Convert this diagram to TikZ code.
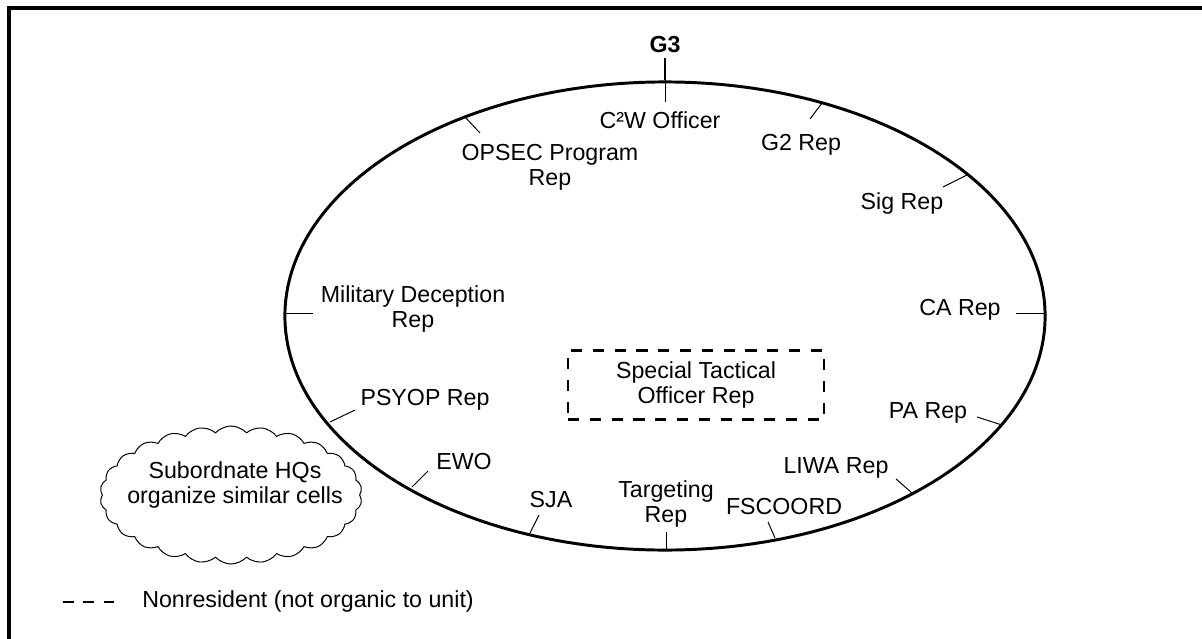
\documentclass[tikz,border=0pt]{standalone}
\usepackage{fontspec}
\setmainfont{Liberation Sans}
\usepackage{tikz}
\usetikzlibrary{shapes.geometric, shapes.symbols}
\tikzset{
  lbl/.style={align=center, inner sep=1pt},
  tickline/.style={draw=black, line width=0.7pt},
  nonres/.style={draw=black, line width=1.8pt, dash pattern=on 8pt off 7.5pt},
}
\newcommand{\Rtick}[3]{%
    \coordinate (#1o) at (#2);
    \coordinate (#1i) at (#3);
    \draw[tickline] (#1o) -- (#1i);
  }

\begin{document}
\begin{tikzpicture}[x=0.025cm,y=-0.025cm, every node/.style={font=\fontsize{16.5}{17.8}\selectfont}]
  \useasboundingbox (0,0) rectangle (1202,638);

  % ------------------------------------------------
  % Frame (open to the right and bottom)
  % ------------------------------------------------
  \draw[line width=2.6pt] (9,645) -- (9,8) -- (1210,8);

  % Subordinate cloud, behind the ring
  \node[cloud, draw, fill=white, line width=0.7pt, cloud puffs=26, cloud puff arc=95,
        aspect=1.9, minimum width=6.55cm, minimum height=3.45cm, inner sep=0pt]
        (cloud) at (231,495) {};
  \node[lbl] (cloudText) at (235,485) {Subordnate HQs\\organize similar cells};

  % The cell
  \node[ellipse, draw, line width=2.1pt, minimum width=19cm, minimum height=11.7cm,
        inner sep=0pt] (ring) at (665,316) {};

  % G3 on top
  \node[font=\fontsize{16.5}{17.8}\selectfont\bfseries] (g3) at (665,45) {G3};
  \draw[line width=1.8pt] (g3.south) -- (ring.north);

  % ------------------------------------------------
  % Members round the ring
  % ------------------------------------------------
  \node[lbl] (c2w)       at (660,120) {C²W Officer};
  \node[lbl] (opsec)     at (550,167) {OPSEC Program\\Rep};
  \node[lbl] (g2)        at (801,145) {G2 Rep};
  \node[lbl] (sig)       at (902,203) {Sig Rep};
  \node[lbl] (ca)        at (960,310) {CA Rep};
  \node[lbl] (milDec)    at (413,309) {Military Deception\\Rep};
  \node[lbl] (psyop)     at (425,400) {PSYOP Rep};
  \node[lbl] (pa)        at (928,413) {PA Rep};
  \node[lbl] (liwa)      at (836,468) {LIWA Rep};
  \node[lbl] (ewo)       at (464,462) {EWO};
  \node[lbl] (sja)       at (551,500) {SJA};
  \node[lbl] (targeting) at (666,504) {Targeting\\Rep};
  \node[lbl] (fscoord)   at (784,507) {FSCOORD};

  % Ticks (outer end on ring, inner end free)
  \coordinate (c2wo) at (ring.north);
  \coordinate (c2wi) at (665,102);
  \draw[tickline] (c2wo) -- (c2wi);
  \Rtick{opsec}{465,117}{480,133}
  \Rtick{gtwo}{822,103}{810,119}
  \Rtick{sig}{967,175}{943,187}
  \Rtick{ca}{1045,313}{1016,313}
  \Rtick{milDec}{285,313}{313,313}
  \Rtick{psyop}{330,422}{355,410}
  \Rtick{pa}{1002,425}{977,417}
  \Rtick{liwa}{912,493}{896,479}
  \Rtick{fscoord}{775,538}{768,522}
  \Rtick{targeting}{666,550}{666,532}
  \Rtick{sja}{530,533}{539,515}
  \Rtick{ewo}{412,487}{428,471}

  % Nonresident member
  \node[lbl, nonres, minimum width=6.4cm, minimum height=1.72cm] (stoRep) at (696,385)
        {Special Tactical\\Officer Rep};

  % ------------------------------------------------
  % Legend
  % ------------------------------------------------
  \coordinate (legA) at (63,602);
  \coordinate (legB) at (117,602);
  \draw[nonres, dash pattern=on 7.8pt off 6.6pt] (legA) -- (legB);
  \node[anchor=west, inner sep=0pt] (legText) at (142,601) {Nonresident (not organic to unit)};
\end{tikzpicture}
\end{document}
